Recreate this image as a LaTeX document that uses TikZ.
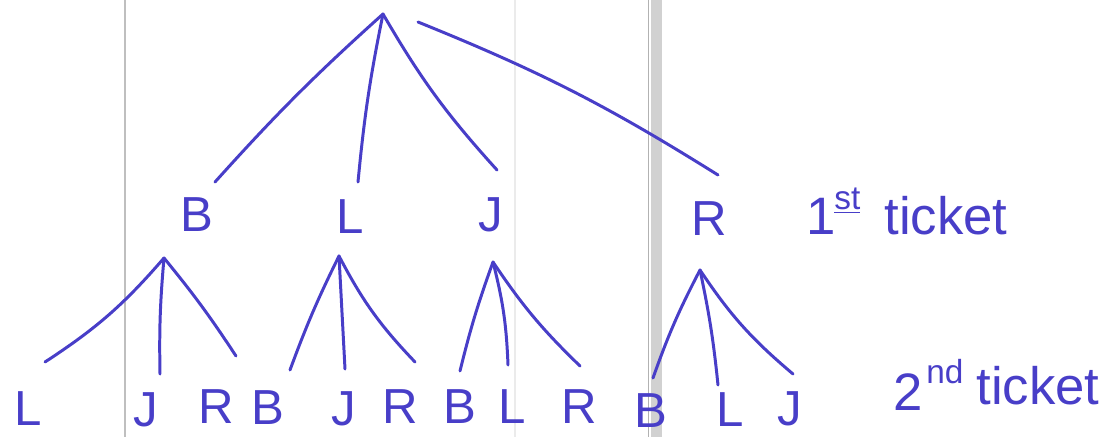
\documentclass[tikz,border=0pt]{standalone}
\usepackage{fontspec}
\setmainfont{Liberation Sans}
\definecolor{ink}{RGB}{72,62,200}
\begin{document}
\begin{tikzpicture}[x=0.02cm,y=-0.02cm,
  pen/.style={draw=ink,line width=1.7pt,line cap=round,line join=round},
  lbl/.style={text=ink,font=\fontsize{28}{30}\selectfont,inner sep=0pt},
  note/.style={text=ink,font=\fontsize{30}{32}\selectfont,inner sep=0pt,anchor=west},
  sup/.style={text=ink,font=\fontsize{19}{20}\selectfont,inner sep=0pt,anchor=west}]
\useasboundingbox (0,0) rectangle (1105,437);
% scanned-paper background lines
\draw[black!25,line width=0.6pt] (125,0) -- (125,437);
\draw[black!8,line width=0.6pt] (515,0) -- (515,437);
\fill[black!18] (651,0) rectangle (662,437);
\draw[black!30,line width=0.5pt] (648,0) -- (648,437);

% root
\coordinate (root) at (383,14);
\coordinate (rootR) at (418,22);
% level-1 line ends
\coordinate (eB) at (215,182);
\coordinate (eL) at (358,182);
\coordinate (eJ) at (497,170);
\coordinate (eR) at (718,175);
\draw[pen] (root) to[bend right=3] (eB);
\draw[pen] (root) to[bend right=3] (eL);
\draw[pen] (root) to[bend right=6] (eJ);
\draw[pen] (rootR) to[bend left=5] (eR);

% level-1 labels
\node[lbl] (B) at (197,215) {B};
\node[lbl] (L) at (350,217) {L};
\node[lbl] (J) at (491,215) {J};
\node[lbl] (R) at (709,219) {R};

% hubs
\coordinate (hB) at (164,258);
\coordinate (hL) at (339,256);
\coordinate (hJ) at (493,262);
\coordinate (hR) at (700,270);

% second-level line ends
\coordinate (bL) at (45,362);
\coordinate (bJ) at (160,374);
\coordinate (bR) at (236,356);
\coordinate (lB) at (290,370);
\coordinate (lJ) at (345,369);
\coordinate (lR) at (415,362);
\coordinate (jB) at (460,371);
\coordinate (jL) at (508,365);
\coordinate (jR) at (580,366);
\coordinate (rB) at (653,378);
\coordinate (rL) at (718,385);
\coordinate (rJ) at (793,374);

\draw[pen] (hB) to[bend left=8] (bL);
\draw[pen] (hB) to[bend right=3] (bJ);
\draw[pen] (hB) to[bend left=3] (bR);
\draw[pen] (hL) to[bend right=3] (lB);
\draw[pen] (hL) to (lJ);
\draw[pen] (hL) to[bend right=8] (lR);
\draw[pen] (hJ) to[bend right=3] (jB);
\draw[pen] (hJ) to[bend left=6] (jL);
\draw[pen] (hJ) to[bend right=6] (jR);
\draw[pen] (hR) to[bend right=4] (rB);
\draw[pen] (hR) to[bend left=3] (rL);
\draw[pen] (hR) to[bend right=8] (rJ);

% second-level labels
\node[lbl] (L1) at (28,409) {L};
\node[lbl] (J1) at (146,410) {J};
\node[lbl] (R1) at (216,407) {R};
\node[lbl] (B2) at (268,408) {B};
\node[lbl] (J2) at (344,409) {J};
\node[lbl] (R2) at (400,407) {R};
\node[lbl] (B3) at (460,407) {B};
\node[lbl] (L3) at (512,407) {L};
\node[lbl] (R3) at (579,407) {R};
\node[lbl] (B4) at (651,411) {B};
\node[lbl] (L4) at (730,410) {L};
\node[lbl] (J4) at (790,409) {J};

% side notes
\node[note] (first) at (806,216) {1};
\node[sup] (firstsup) at (834,201) {\underline{st}};
\node[note] (firstt) at (884,216) {ticket};
\node[note] (second) at (893,392) {2};
\node[sup] (secondsup) at (926,372) {nd};
\node[note] (secondt) at (976,386) {ticket};
\end{tikzpicture}
\end{document}
